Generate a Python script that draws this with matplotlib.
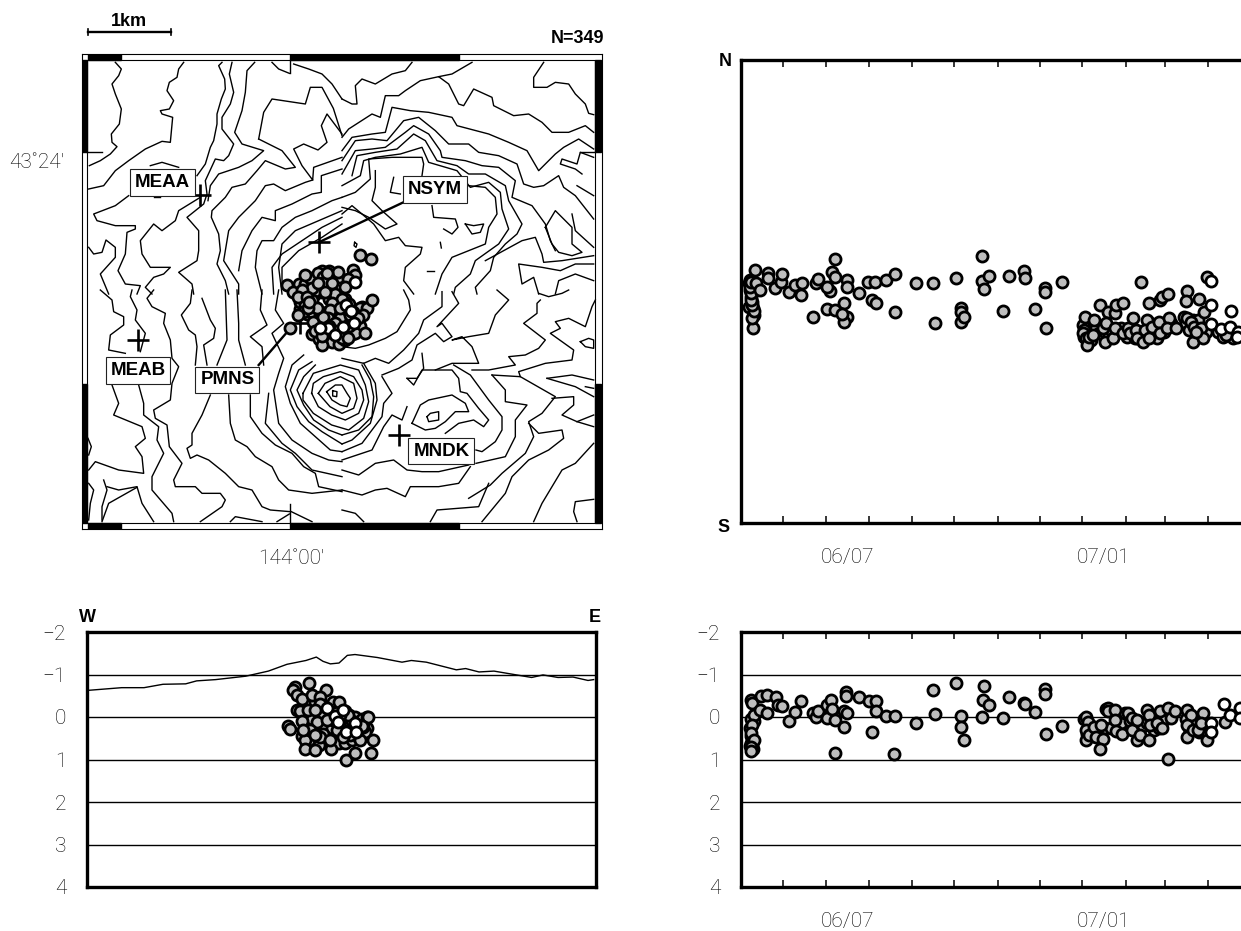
#!/usr/bin/env python
import numpy as np
import matplotlib
matplotlib.use('Agg')
import matplotlib.pyplot as plt
from matplotlib.patches import Rectangle

plt.rcParams['font.family'] = ['Liberation Sans', 'DejaVu Sans']
LIGHT = dict(family=['Roboto', 'Liberation Sans'], fontweight='light', color='black')

W, H = 1241, 931
GRAY = '#bebebe'

# contours, one list per quarter of the map
# (units: 3 per image pixel, 252 per km)
NW = [
 [(100,25),(118,45),(110,65),(90,90),(100,120),(118,165),(112,210),(88,240),(90,265),(105,278),(85,300),(55,320),(22,335)],
 [(305,25),(290,45),(285,70),(262,85),(255,110),(275,140),(262,165),(235,170),(240,180),(272,190),(265,265),(240,262),(190,285),(140,320),(100,350),(65,395),(20,405)],
 [(205,335),(240,325),(290,340)],
 [(215,430),(235,430)],
 [(140,425),(100,455),(35,480),(45,500),(100,515),(160,515),(160,525),(135,535),(130,600),(108,650),(130,690),(175,695),(165,720)],
 [(420,25),(410,35),(428,75),(430,105),(418,135),(405,180),(405,210),(395,260),(385,280),(370,330),(345,365)],
 [(355,430),(290,470),(280,500),(240,530),(215,510),(175,560),(180,600),(205,640),(265,640),(245,660),(215,670),(190,700),(210,720)],
 [(450,25),(442,60),(455,115),(445,150),(420,190),(420,225),(455,270),(440,305),(425,320),(400,315),(370,380),(375,420),(365,450),(315,490),(350,530),(350,590),(345,620),(290,655),(330,690),(335,720)],
 [(518,25),(495,50),(490,115),(480,170),(458,235),(480,270),(545,290),(510,320),(470,340),(410,360),(385,395),(378,440)],
 [(570,25),(590,45),(622,58)],
 [(635,30),(680,45),(720,60),(750,90),(780,135)],
 [(530,255),(545,175),(570,135),(670,150),(685,100),(720,100),(754,163),(780,245)],
 [(530,255),(600,290),(640,340),(610,345),(550,320),(525,350),(490,390),(450,400),(430,430),(390,470),(388,490),(410,540),(415,590),(405,630),(430,680),(440,720)],
 [(780,240),(735,180),(718,215),(735,265),(708,288),(665,270),(635,285),(660,335),(692,378),(695,340),(780,310)],
 [(692,378),(670,385),(610,410),(575,390),(550,395),(520,440),(470,490),(440,530),(425,620),(470,690),(470,720)],
 [(780,345),(718,365),(718,415),(690,420),(630,450),(580,470),(580,500),(540,490),(510,530),(480,590),(470,650)],
 [(780,430),(750,440),(690,470),(640,490),(600,520),(575,560),(540,560),(525,590),(520,640),(540,720)],
 [(780,470),(710,500),(640,530),(600,570),(590,640),(600,720)],
 [(780,490),(720,520),(660,560),(600,600),(570,640),(575,720)],
 [(780,510),(720,550),(650,590),(600,640),(600,690)],
 [(20,580),(35,600),(60,595),(72,558),(100,580),(100,610),(55,660),(80,720)],
]
NE = [
 [(0,135),(30,150),(45,150),(40,95),(60,75),(100,90),(150,60),(190,50),(210,25)],
 [(0,250),(20,225),(90,180),(115,190),(130,125),(170,125),(190,110),(235,80),(290,68),(320,90),(350,150),(365,155),(395,105),(450,130),(455,155),(515,185),(560,180),(600,205),(630,235),(680,235),(730,215),(755,235)],
 [(290,68),(330,60),(390,25)],
 [(0,290),(30,250),(90,240),(130,235),(150,160),(205,170),(260,175),(330,190),(345,215),(440,240),(500,265),(555,290),(590,350),(640,300),(665,280),(710,255),(755,285)],
 [(0,320),(40,260),(90,255),(135,260),(185,200),(230,190),(280,230),(320,270),(380,270),(410,295),(470,305),(525,330),(545,390),(575,400),(605,395),(650,365),(665,400),(700,425),(755,495)],
 [(0,360),(40,290),(90,285),(130,280),(190,235),(215,215),(260,240),(295,290),(300,310),(370,320),(420,335),(470,340),(520,380),(510,430),(570,455),(610,510),(625,560),(640,590)],
 [(30,365),(45,305),(100,295),(165,285),(215,240),(250,260),(285,320),(345,335),(380,360),(430,360),(490,395),(500,440),(540,510),(525,540),(490,570),(455,610),(445,650),(400,700),(405,720)],
 [(0,395),(55,365),(65,320),(100,310),(175,300),(240,280),(260,325),(345,350),(385,400),(440,385),(475,415),(480,465),(500,525),(470,570),(400,620),(385,660),(340,700),(335,720)],
 [(0,430),(40,415),(85,375),(80,315),(150,310),(215,310),(240,310),(245,330),(240,365)],
 [(100,350),(100,400),(90,440),(120,470),(165,510),(130,525),(80,490),(40,470),(0,460)],
 [(155,370),(145,415),(175,420)],
 [(380,395),(430,400),(460,430),(465,480),(440,520),(430,570),(380,590),(330,610),(300,660),(280,720)],
 [(0,480),(30,455),(60,480),(95,510),(130,560),(170,550),(190,575),(240,580),(235,600),(190,640),(185,680),(215,720)],
 [(270,455),(275,490),(340,495),(348,520),(330,540),(305,525)],
 [(370,510),(395,515),(425,510),(415,535),(390,540),(370,510)],
 [(295,565),(298,582)],
 [(255,650),(275,650)],
 [(38,565),(45,570),(42,580),(36,575),(38,565)],
 [(605,25),(575,70),(575,100),(615,100),(640,85),(680,90),(700,120),(730,150),(740,178),(755,182)],
 [(755,310),(715,295),(705,330),(660,315),(655,330),(700,345),(720,360)],
 [(705,395),(755,425)],
 [(610,520),(640,470),(690,520),(690,570),(720,595),(690,605),(650,595),(630,570),(610,520)],
 [(755,580),(700,530),(690,480)],
 [(430,620),(540,560),(580,550),(600,600),(605,625),(660,620),(755,605)],
 [(755,630),(700,630),(655,650),(600,640),(530,630),(540,690),(575,670),(590,720)],
 [(640,720),(650,680),(700,660),(755,680)],
]
SW = [
 [(55,0),(90,30),(95,65),(125,80),(125,105),(85,135),(80,180),(130,190)],
 [(90,285),(110,340),(95,375),(180,410),(190,445),(160,470),(180,500),(185,550),(110,540),(40,515),(20,540)],
 [(150,0),(145,20),(165,60),(160,90),(190,130),(175,185)],
 [(170,285),(185,340),(185,375),(230,410),(225,450),(245,490),(210,560),(210,600),(270,670),(275,695)],
 [(215,0),(195,25),(210,50),(250,70),(245,100),(265,150),(270,205),(290,230),(270,280),(265,330),(215,360),(220,385),(255,405),(262,470),(300,520),(275,570),(280,590),(340,590),(360,610),(415,610),(430,630),(420,650),(355,695)],
 [(330,0),(325,40),(298,75),(320,120),(340,135),(345,170),(340,225)],
 [(360,25),(385,90),(400,115),(395,145),(365,165),(375,225)],
 [(385,315),(360,375),(330,430),(330,465),(315,475),(325,505),(345,495),(380,510),(430,550),(470,590),(510,600),(540,650),(565,660),(625,665)],
 [(430,0),(435,150),(405,225)],
 [(440,315),(445,400),(460,450),(495,470),(520,500),(570,530),(590,570),(620,600),(690,610),(780,600)],
 [(465,0),(470,100),(470,150),(490,225)],
 [(505,315),(505,380),(540,430),(580,465),(630,490),(665,530),(700,550),(710,590),(780,605)],
 [(540,0),(535,60),(555,105),(505,140),(540,170),(545,225)],
 [(590,0),(580,60),(605,100),(570,130),(605,205),(590,250),(575,300),(590,400),(630,450),(690,490),(740,510),(780,515)],
 [(665,195),(630,225),(610,290),(625,340),(655,400),(700,440),(745,480),(780,485)],
 [(690,215),(650,240),(625,300),(645,350),(680,395),(720,425),(780,462)],
 [(700,225),(665,260),(645,300),(665,345),(695,390),(740,420),(780,435)],
 [(560,310),(550,400),(600,460),(640,490),(690,540),(780,560)],
 # closed rings round the summit
 [(752,302),(765,305),(764,320),(752,318),(752,302)],
 [(734,305),(760,285),(780,285),(795,310),(805,325),(795,350),(775,345),(750,330),(734,305)],
 [(709,310),(729,280),(775,260),(815,280),(825,325),(815,355),(780,370),(744,350),(709,310)],
 [(689,310),(694,280),(724,260),(775,245),(815,260),(840,300),(845,330),(830,370),(790,390),(749,375),(709,350),(689,310)],
 [(663,310),(694,250),(775,225),(830,240),(850,285),(860,335),(845,385),(800,420),(749,405),(694,370),(663,330),(663,310)],
 [(20,580),(35,600),(25,640),(20,690)],
 [(65,570),(75,600),(60,650),(60,690)],
 [(75,590),(110,600),(165,590),(180,640),(215,695)],
 [(60,695),(80,640),(165,592)],
 [(445,695),(460,680),(540,695)],
 [(585,695),(622,672)],
 [(628,665),(690,695)],
 [(18,445),(28,470),(20,495)],
]
SE = [
 [(0,170),(40,175),(80,165),(130,145),(165,125),(205,60),(200,30),(185,0)],
 [(0,205),(65,220),(100,205),(140,220),(185,180),(230,130),(245,90),(300,50),(300,5)],
 [(120,255),(170,235),(210,210),(225,165),(280,130),(305,155),(330,140),(300,100),(285,110),(350,40),(330,5)],
 [(0,435),(50,420),(90,380),(95,320),(85,270),(60,225)],
 [(65,220),(100,280),(105,330),(85,400),(30,450),(0,462)],
 [(120,260),(150,310),(125,340),(120,380),(60,460),(0,485)],
 [(195,350),(180,390),(150,375),(125,410),(90,480),(0,510)],
 [(195,265),(225,265),(245,235),(240,190)],
 [(195,265),(215,285),(240,240),(330,240),(350,265),(355,305),(375,310),(410,355),(440,390),(425,410),(395,390),(350,400),(310,430)],
 [(210,400),(235,345),(260,330),(330,315),(370,340),(380,365),(340,365),(310,395),(280,415),(250,420),(210,400)],
 [(255,380),(265,370),(290,365),(290,390),(260,395),(255,380)],
 [(335,225),(385,255),(440,330),(480,380),(480,420),(460,455),(420,485),(402,480)],
 [(450,255),(490,300),(490,335),(555,345),(520,390),(520,440),(490,500),(402,520)],
 [(535,260),(640,320),(600,370),(560,395),(575,440),(550,490),(480,550),(445,585),(380,625)],
 [(280,240),(330,220),(410,220),(390,170),(360,140),(330,150),(380,140),(440,130),(460,75),(500,30),(465,0)],
 [(390,240),(440,240),(520,225),(500,200),(550,195),(590,175),(610,150),(545,100),(585,70),(585,40),(595,30)],
 [(450,255),(535,260),(530,245),(610,220),(690,210),(695,180),(625,130),(655,115),(640,95),(680,85),(730,110),(750,50),(760,30)],
 [(590,10),(620,20),(660,10),(680,0)],
 [(615,265),(690,255),(755,270)],
 [(615,265),(700,290),(755,320)],
 [(715,155),(740,145),(755,150),(755,175),(730,170),(715,155)],
 [(730,290),(755,295)],
 [(630,325),(695,320),(695,345),(660,375),(705,395),(755,410)],
 [(705,395),(755,375)],
 [(755,460),(700,520),(660,540),(630,590),(600,640),(575,695)],
 [(560,400),(590,430),(660,420),(665,445),(620,480),(560,510),(510,560),(490,610),(420,695)],
 [(755,628),(700,635),(695,665),(705,695)],
 [(0,540),(50,555),(100,520),(155,510),(195,540),(240,545),(290,545),(380,525)],
 [(0,600),(60,615),(100,600),(135,595),(190,620),(205,590),(290,590),(350,580),(385,530)],
 [(0,660),(40,670),(65,695)],
 [(265,695),(285,660),(410,650),(440,580)],
]
QUARTER_OFFSET = {'NW': (0, 0), 'NE': (780, 0), 'SW': (0, 708), 'SE': (780, 708)}
QUARTERS = {'NW': NW, 'NE': NE, 'SW': SW, 'SE': SE}

# stations, map units
STATION = ['MEAA', 'NSYM', 'MEAB', 'PMNS', 'MNDK']
STA_X = [355, 710, 168, 655, 950]
STA_Y = [422, 565, 858, 808, 1143]
LABEL_X = [241, 1059, 168, 436, 1078]
LABEL_Y = [386, 407, 950, 978, 1191]

# epicentres, map units
map_gray_x = [650,670,690,710,730,750,770,790,830,660,680,700,720,740,760,780,800,820,840,655,675,695,715,735,755,775,795,815,835,690,710,730,750,770,790,810,700,720,740,
              834,867,624,614,634,684,669,709,724,729,769,814,819,799,729,689,659,654,689,669,689,664,649,714,749,744,739,774,709,759,804,834,854,869,844,819,849,789,719,779,799,694,774,814,724,704,679,829,709,749,734,649,674,700,760,790,680,740,800,720]
map_gray_y = [690,690,680,675,670,680,670,735,770,735,750,720,715,735,720,735,750,790,760,765,780,760,830,775,800,820,835,800,815,840,855,855,865,870,790,840,710,650,650,
              603,615,823,693,713,673,663,658,668,683,653,648,663,676,713,703,708,743,738,753,773,773,783,783,748,768,793,793,798,808,783,763,763,738,783,836,838,858,873,853,853,803,763,773,788,763,763,793,688,688,658,728,728,830,830,700,745,815,815,845]
map_white_x = [819,792,807,817,784,737,759,714]
map_white_y = [683,753,770,808,818,823,843,823]

# section: x in map units, depth in km
sec_gray_x = [700,720,740,760,780,800,820,840,700,720,740,760,780,800,820,700,720,740,760,780,800,670,690,710,730,750,770,790,810,660,680,750,770,790,810,830,
              639,632,682,644,661,732,689,714,754,772,714,644,654,679,699,659,617,624,689,669,730,710,669,699,747,792,819,866,854,849,872,834,799,854,859,844,814,774,724,704,754,714,764,744,684,734,699,664,804,829,774,839,784]
sec_gray_d = [-.35,-.30,-.25,-.20,-.10,-.05,0,.05,-.05,0,.05,.10,.15,.20,.25,.25,.30,.35,.40,.40,.45,.35,.05,.15,.20,.25,.30,-.15,.10,.45,.55,.55,.60,.60,.55,.50,
              -.71,-.63,-.80,-.51,-.43,-.63,-.51,-.47,-.35,-.35,-.31,-.16,-.14,-.16,-.16,.10,.22,.29,.30,.55,.51,.67,.75,.78,.76,1.0,.85,.85,.27,.35,.53,.55,-.04,0,0,.24,.31,.24,.39,.12,.08,.47,.31,.55,.31,.08,.43,.30,.43,.31,-.04,.20,.47]
sec_white_x = [736,759,784,819,792,821,769]
sec_white_d = [-.21,-.02,-.16,.14,.35,.35,.12]
topo_x = [23,119,186,243,311,344,401,491,559,615,672,703,723,745,771,796,819,886,960,988,1033,1123,1151,1191,1236,1281,1349,1383,1428,1473,1518,1535]
topo_d = [-.63,-.69,-.69,-.77,-.78,-.85,-.88,-.96,-1.08,-1.24,-1.33,-1.41,-1.31,-1.25,-1.27,-1.45,-1.47,-1.40,-1.29,-1.33,-1.29,-1.11,-1.14,-1.06,-1.08,-1.02,-.93,-.99,-.93,-.94,-.86,-.88]

# time axis in digitised units, about 4.1 per day
month_ticks = [215.6,343,469.5,596.5,720.5,849,974.5,1098.5,1228,1343.6,1470.6]
half_year_ticks = [343,1098.5]
time_labels = ['06/07','07/01']
time_label_pos = [406,1163]

# time vs north-south position (digitised units, north up)
ns_t = [115,118,120,125,128,130,115,118,1100,1105,1115,1125,1140,1150,1165,1178,1185,1205,1215,1230,1245,1255,1270,1280,1300,1310,1320,1340,1345,1360,1400,1405,1415,1425,1440,1445,1465,1500,1515,1545,
        127,125,130,125,120,122,118,120,135,148,132,170,170,193,210,213,232,250,270,272,303,313,320,345,370,395,405,395,390,355,345,360,370,370,405,405,440,478,490,468,488,520,545,547,608,658,663,725,742,742,742,750,803,803,810,823,865,882,928,930,960,990,990,992,1038,
        1108,1105,1100,1110,1112,1120,1135,1130,1153,1160,1165,1175,1170,1190,1195,1195,1200,1220,1220,1235,1250,1240,1258,1262,1280,1290,1285,1295,1305,1295,1330,1335,1352,1325,1330,1355,1350,1375,1272,1410,1405,1445,1410,1420,1430,1450,1460,1425,1455,1468,1435,1525]
ns_y = [130,150,170,185,205,225,200,120,255,290,275,300,265,280,275,285,270,275,265,290,270,295,280,290,250,285,295,275,255,250,230,250,270,240,240,285,275,275,290,295,
        265,235,213,195,180,160,140,125,130,150,90,98,115,145,125,103,155,135,165,130,232,130,118,208,210,188,232,245,222,153,140,95,57,112,120,140,160,180,190,127,127,120,102,216,130,130,250,113,205,215,245,232,47,122,147,108,213,108,92,113,207,145,155,265,127,
        230,270,280,295,315,290,240,285,195,265,305,215,250,295,265,220,195,188,280,265,235,280,270,295,305,240,270,295,260,190,180,170,162,245,280,235,265,265,127,153,183,177,235,245,260,265,215,305,295,110,275,285]
ns_white_t = [1480,1478,1538,1478,1508,1535,1560,1555]
ns_white_y = [123,195,213,253,268,260,275,290]

# time vs depth, km
dep_t = [118,120,122,125,128,130,122,118,1105,1112,1125,1135,1145,1165,1170,1185,1205,1215,1225,1240,1255,1265,1280,1290,1305,1310,1325,1345,1405,1415,1430,1445,1460,1470,
         120,125,130,123,122,130,122,122,150,167,195,148,168,200,213,232,252,270,303,312,320,345,345,358,360,368,370,395,395,403,403,405,440,470,478,490,490,520,543,547,608,658,663,725,742,742,750,803,805,810,823,865,882,928,930,960,990,990,992,1038,
         1110,1115,1110,1110,1120,1135,1140,1155,1160,1153,1175,1175,1195,1195,1198,1218,1235,1245,1245,1260,1262,1270,1290,1295,1295,1300,1320,1330,1335,1352,1352,1360,1372,1408,1420,1410,1408,1425,1440,1455,1450,1468,1520]
dep_d = [.25,.45,.60,.65,.75,.10,.05,.68,.05,.40,.20,.45,.30,.25,-.20,.25,.30,.15,-.10,.10,.25,.40,.20,.15,.05,.30,.25,.05,.05,.25,.15,.35,.10,.40,
         -.40,-.33,-.05,.19,.37,.53,.71,.79,-.50,-.52,-.47,-.17,-.09,-.29,-.25,.09,-.11,-.37,-.09,-.01,-.14,.03,-.29,-.40,-.18,.07,.84,.23,-.13,-.60,-.50,-.09,-.46,-.37,.35,-.37,-.15,-.02,.87,-.02,.15,-.64,-.06,-.80,-.02,.23,.55,.01,-.40,-.74,-.29,.03,-.46,-.34,-.30,-.11,-.66,-.54,.40,.21,
         -.01,.11,.31,.55,.43,.23,.47,.19,.51,.76,-.22,-.13,-.17,.07,.33,.40,-.09,.03,.31,.06,.55,.43,-.17,-.05,.53,.19,.15,-.13,.27,-.21,.98,.03,-.13,-.17,-.05,.19,.48,.31,.31,-.09,.15,.53,.11]
dep_white_t = [1517,1478,1480,1535,1565,1565]
dep_white_d = [-.31,.13,.35,-.05,-.21,.03]

depth_ticks = [-2,-1,0,1,2,3,4]
depth_labels = ['\u22122','\u22121','0','1','2','3','4']


def axes_px(left, top, right, bottom):
    return plt.gcf().add_axes([left/W, 1-bottom/H, (right-left)/W, (bottom-top)/H])


def events(ax, x, y, fill):
    ax.plot(x, y, 'o', ms=8.0, mfc=fill, mec='black', mew=2.0, zorder=5)


def depth_axis(ax):
    ax.set_ylim(4, -2)
    ax.set_yticks(depth_ticks, labels=depth_labels)
    ax.tick_params(axis='y', length=0, pad=15, labelsize=15)
    for t in ax.get_yticklabels():
        t.set(**LIGHT)
    ax.grid(True, axis='y', color='black', lw=1.0)
    ax.set_axisbelow(True)


def time_axis(ax):
    ax.set_xlim(91.5, 1568)
    ax.set_xticks(month_ticks, labels=[])
    ax.set_xticks(half_year_ticks, minor=True)
    ax.tick_params(axis='x', which='major', direction='in', top=True, length=5, width=1.1)
    ax.tick_params(axis='x', which='minor', direction='in', top=True, length=10, width=1.1)
    ax.spines['right'].set_visible(False)
    for s in ['left', 'top', 'bottom']:
        ax.spines[s].set_linewidth(2.4)
    for pos, lab in zip(time_label_pos, time_labels):
        ax.annotate(lab, (pos, 0), xycoords=('data', 'axes fraction'), xytext=(0, -25),
                    textcoords='offset points', ha='center', va='center', fontsize=15, **LIGHT)


fig = plt.figure(figsize=(W/100, H/100), dpi=100)

# map
ax = axes_px(82, 54, 602, 529)
ax.set_xlim(0, 1560)
ax.set_ylim(1425, 0)
ax.set_xticks([])
ax.set_yticks([])
for s in ax.spines.values():
    s.set_linewidth(0.8)
for key in QUARTERS:
    dx, dy = QUARTER_OFFSET[key]
    for line in QUARTERS[key]:
        p = np.array(line, dtype=float)
        ax.plot(p[:,0]+dx, p[:,1]+dy, color='black', lw=1.0, zorder=2, solid_joinstyle='round')
# black and white border bars
for x0, x1 in [(18,117), (624,1131)]:
    ax.add_patch(Rectangle((x0,0), x1-x0, 18, color='black', zorder=3))
    ax.add_patch(Rectangle((x0,1407), x1-x0, 18, color='black', zorder=3))
for y0, y1 in [(18,294), (990,1407)]:
    ax.add_patch(Rectangle((0,y0), 15, y1-y0, color='black', zorder=3))
    ax.add_patch(Rectangle((1539,y0), 18, y1-y0, color='black', zorder=3))
ax.add_patch(Rectangle((15,18), 1524, 1389, fill=False, ec='black', lw=0.8, zorder=3))
ax.plot([624,624], [18,58], color='black', lw=1, zorder=3)
ax.plot([624,624], [1350,1407], color='black', lw=1, zorder=3)
ax.plot([15,60], [294,294], color='black', lw=1, zorder=3)
ax.plot([1495,1539], [294,294], color='black', lw=1, zorder=3)
# stations
ax.plot([1000,STA_X[1]], [428,STA_Y[1]], color='black', lw=1.7, zorder=4)
ax.plot([530,625], [933,823], color='black', lw=1.7, zorder=4)
ax.plot(STA_X, STA_Y, '+', color='black', ms=16, mew=1.9, zorder=4)
events(ax, map_gray_x, map_gray_y, GRAY)
events(ax, map_white_x, map_white_y, 'white')
for name, x, y in zip(STATION, LABEL_X, LABEL_Y):
    ax.text(x, y, name, ha='center', va='center', fontsize=13.5, fontweight='bold', zorder=7,
            bbox=dict(boxstyle='square,pad=0.26', fc='white', ec='#222222', lw=0.8))
ax.plot([18,267], [-66,-66], color='black', lw=1.7, clip_on=False)
ax.plot([18,18], [-75,-57], color='black', lw=1.2, clip_on=False)
ax.plot([267,267], [-75,-57], color='black', lw=1.2, clip_on=False)
ax.text(142, -96, '1km', ha='center', va='center', fontsize=13, fontweight='bold')
ax.text(1566, -46, 'N=349', ha='right', va='center', fontsize=13, fontweight='bold')
fig.text(37/W, 1-162/H, "43\u02da24'", ha='center', va='center', fontsize=15, **LIGHT)
fig.text(291/W, 1-558/H, "144\u02da00'", ha='center', va='center', fontsize=15, **LIGHT)

# section
ax = axes_px(87, 632, 596, 887)
ax.set_xlim(15, 1542)
depth_axis(ax)
ax.set_xticks([])
for s in ax.spines.values():
    s.set_linewidth(2.4)
ax.plot(topo_x, topo_d, color='black', lw=1.0)
events(ax, sec_gray_x, sec_gray_d, GRAY)
events(ax, sec_white_x, sec_white_d, 'white')
fig.text(87/W, 1-617/H, 'W', ha='center', va='center', fontsize=13, fontweight='bold')
fig.text(595/W, 1-617/H, 'E', ha='center', va='center', fontsize=13, fontweight='bold')

# time vs N-S
ax = axes_px(741, 60, W, 523)
time_axis(ax)
ax.set_ylim(849, -540)
ax.set_yticks([])
events(ax, ns_t, ns_y, GRAY)
events(ax, ns_white_t, ns_white_y, 'white')
fig.text(725/W, 1-62/H, 'N', ha='center', va='center', fontsize=13, fontweight='bold')
fig.text(724/W, 1-527/H, 'S', ha='center', va='center', fontsize=13, fontweight='bold')

# time vs depth
ax = axes_px(741, 632, W, 887)
time_axis(ax)
depth_axis(ax)
events(ax, dep_t, dep_d, GRAY)
events(ax, dep_white_t, dep_white_d, 'white')

fig.savefig('out.png', dpi=100)
